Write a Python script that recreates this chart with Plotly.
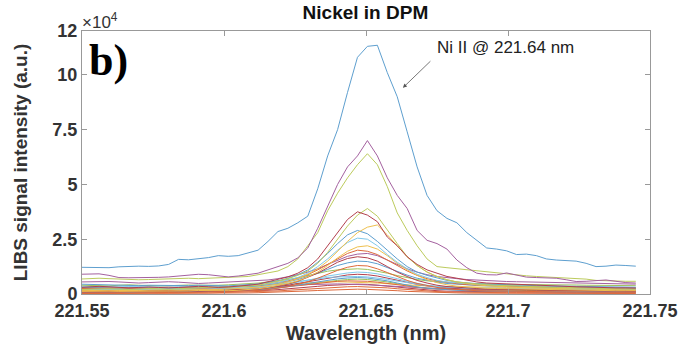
import plotly.graph_objects as go

# Wavelength grid (nm)
wavelength = [221.549, 221.5525, 221.556, 221.5595, 221.563, 221.5665, 221.570, 221.5735, 221.577, 221.5805,
              221.584, 221.5875, 221.591, 221.5945, 221.598, 221.6015, 221.605, 221.6085, 221.612, 221.6155,
              221.619, 221.6225, 221.626, 221.6295, 221.633, 221.6365, 221.640, 221.6435, 221.647, 221.6505,
              221.654, 221.6575, 221.661, 221.6645, 221.668, 221.6715, 221.675, 221.6785, 221.682, 221.6855,
              221.689, 221.6925, 221.696, 221.6995, 221.703, 221.7065, 221.710, 221.7135, 221.717, 221.7205,
              221.724, 221.7275, 221.731, 221.7345, 221.738, 221.7415, 221.745]

# Spectra, intensity in units of 1e4 a.u.
s_blue1 = [1.22,1.21,1.19,1.2,1.24,1.27,1.27,1.26,1.28,1.35,1.58,1.56,1.6,1.66,1.75,1.72,1.75,1.87,2.0,2.4,2.85,3.0,3.25,3.55,4.8,6.3,7.5,9.2,10.8,11.3,11.35,10.1,9.0,7.4,5.8,4.5,3.8,3.45,3.25,2.8,2.45,2.1,2.05,1.97,1.8,1.82,1.75,1.6,1.55,1.52,1.5,1.4,1.25,1.27,1.32,1.3,1.27]
s_purple1 = [0.9,0.9,0.92,0.85,0.75,0.74,0.74,0.74,0.76,0.78,0.82,0.87,0.9,0.88,0.82,0.78,0.82,0.87,0.95,1.1,1.25,1.4,1.65,2.1,3.0,4.0,5.0,5.8,6.3,7.0,6.3,5.3,4.5,3.9,2.9,2.45,2.3,2.05,1.55,1.2,0.95,0.88,0.87,0.96,0.85,0.77,0.75,0.74,0.72,0.65,0.57,0.58,0.62,0.64,0.58,0.52,0.5]
s_olive1 = [0.68,0.7,0.72,0.7,0.68,0.66,0.65,0.66,0.68,0.7,0.72,0.72,0.7,0.72,0.74,0.76,0.78,0.8,0.88,0.95,1.05,1.25,1.6,2.2,2.8,3.8,4.6,5.3,5.9,6.4,5.9,4.9,3.7,2.9,2.2,1.6,1.25,1.2,1.15,1.1,1.05,1.0,0.95,0.9,0.85,0.83,0.8,0.78,0.75,0.72,0.7,0.68,0.62,0.6,0.58,0.58,0.58]
s_darkred1 = [0.3,0.32,0.35,0.33,0.3,0.28,0.3,0.32,0.3,0.28,0.3,0.32,0.35,0.33,0.3,0.32,0.35,0.4,0.45,0.55,0.65,0.78,0.95,1.2,1.6,2.2,2.8,3.4,3.75,3.6,3.3,2.6,2.2,1.7,1.35,1.1,0.95,0.8,0.72,0.62,0.55,0.5,0.48,0.45,0.42,0.4,0.4,0.38,0.36,0.35,0.33,0.32,0.3,0.3,0.28,0.28,0.27]
s_green1 = [0.2,0.22,0.25,0.24,0.22,0.2,0.22,0.25,0.24,0.22,0.24,0.26,0.28,0.3,0.28,0.3,0.32,0.36,0.4,0.48,0.58,0.7,0.85,1.05,1.4,1.9,2.5,3.1,3.6,3.9,3.55,2.9,2.3,1.7,1.3,1.0,0.8,0.65,0.55,0.5,0.45,0.42,0.4,0.38,0.36,0.34,0.33,0.32,0.3,0.3,0.28,0.26,0.25,0.24,0.24,0.22,0.22]
s_yellow1 = [0.15,0.16,0.18,0.17,0.16,0.15,0.16,0.18,0.2,0.19,0.18,0.2,0.22,0.21,0.2,0.22,0.25,0.28,0.32,0.38,0.45,0.55,0.7,0.9,1.15,1.5,1.95,2.4,2.8,3.05,3.15,2.7,2.2,1.7,1.3,1.0,0.8,0.65,0.55,0.48,0.42,0.38,0.35,0.33,0.3,0.28,0.27,0.26,0.25,0.24,0.22,0.21,0.2,0.2,0.19,0.18,0.18]
s_blue2 = [0.45,0.44,0.42,0.4,0.38,0.37,0.38,0.4,0.39,0.37,0.36,0.38,0.4,0.38,0.36,0.37,0.4,0.42,0.46,0.52,0.6,0.72,0.88,1.1,1.45,1.85,2.3,2.7,2.9,2.75,2.4,2.0,1.6,1.25,1.0,0.85,0.72,0.62,0.55,0.5,0.47,0.45,0.43,0.42,0.4,0.39,0.38,0.37,0.36,0.35,0.34,0.34,0.33,0.33,0.32,0.32,0.31]
s_cyan1 = [0.35,0.34,0.33,0.32,0.33,0.34,0.33,0.32,0.3,0.31,0.33,0.34,0.33,0.32,0.3,0.31,0.33,0.36,0.4,0.45,0.52,0.62,0.75,0.95,1.25,1.6,2.0,2.35,2.55,2.5,2.2,1.8,1.45,1.15,0.9,0.75,0.62,0.55,0.5,0.46,0.43,0.41,0.4,0.38,0.37,0.36,0.35,0.34,0.33,0.32,0.31,0.3,0.3,0.29,0.28,0.28,0.27]
s_yellow2 = [0.12,0.13,0.14,0.13,0.12,0.12,0.13,0.14,0.15,0.14,0.13,0.14,0.16,0.15,0.14,0.15,0.17,0.2,0.24,0.3,0.38,0.48,0.6,0.78,1.0,1.3,1.65,1.95,2.15,2.2,2.05,1.75,1.4,1.1,0.85,0.65,0.52,0.42,0.36,0.32,0.28,0.26,0.25,0.24,0.22,0.21,0.2,0.2,0.19,0.18,0.18,0.17,0.16,0.16,0.15,0.15,0.15]
s_orange1 = [0.25,0.26,0.28,0.3,0.28,0.26,0.25,0.27,0.3,0.32,0.3,0.28,0.27,0.28,0.3,0.32,0.34,0.37,0.4,0.45,0.52,0.6,0.72,0.88,1.1,1.35,1.6,1.85,2.0,1.95,1.8,1.55,1.3,1.05,0.85,0.7,0.6,0.52,0.47,0.43,0.4,0.38,0.37,0.36,0.35,0.34,0.33,0.32,0.31,0.3,0.3,0.29,0.28,0.28,0.27,0.27,0.26]
s_purple2 = [0.55,0.56,0.58,0.57,0.55,0.52,0.5,0.52,0.55,0.56,0.54,0.5,0.48,0.5,0.52,0.55,0.56,0.58,0.6,0.64,0.7,0.78,0.88,1.0,1.15,1.35,1.55,1.72,1.82,1.85,1.75,1.55,1.35,1.15,1.0,0.88,0.8,0.74,0.7,0.66,0.63,0.6,0.58,0.57,0.56,0.55,0.54,0.52,0.5,0.5,0.48,0.47,0.48,0.47,0.46,0.45,0.45]
s_darkred2 = [0.1,0.1,0.11,0.12,0.11,0.1,0.1,0.12,0.13,0.12,0.11,0.12,0.13,0.14,0.13,0.14,0.16,0.18,0.22,0.28,0.35,0.45,0.58,0.75,0.95,1.2,1.45,1.62,1.7,1.65,1.5,1.25,1.0,0.8,0.62,0.5,0.4,0.34,0.3,0.27,0.25,0.23,0.22,0.21,0.2,0.19,0.18,0.18,0.17,0.16,0.16,0.15,0.15,0.14,0.14,0.13,0.13]
s_blue3 = [0.3,0.31,0.3,0.28,0.27,0.28,0.3,0.31,0.3,0.28,0.27,0.28,0.3,0.31,0.3,0.3,0.32,0.34,0.37,0.42,0.48,0.56,0.66,0.8,0.95,1.12,1.3,1.42,1.5,1.48,1.38,1.2,1.02,0.86,0.72,0.62,0.54,0.48,0.44,0.41,0.39,0.37,0.36,0.35,0.34,0.33,0.33,0.32,0.32,0.31,0.31,0.3,0.3,0.29,0.29,0.28,0.28]
s_orange2 = [0.05,0.06,0.06,0.07,0.06,0.05,0.06,0.07,0.08,0.07,0.06,0.07,0.08,0.08,0.09,0.1,0.11,0.13,0.16,0.2,0.26,0.34,0.44,0.56,0.72,0.9,1.08,1.22,1.3,1.28,1.15,0.98,0.8,0.62,0.48,0.38,0.3,0.24,0.2,0.17,0.15,0.14,0.13,0.12,0.12,0.11,0.11,0.1,0.1,0.1,0.09,0.09,0.09,0.08,0.08,0.08,0.08]
s_green2 = [0.4,0.38,0.36,0.37,0.4,0.42,0.4,0.38,0.37,0.38,0.4,0.41,0.4,0.39,0.4,0.42,0.44,0.46,0.5,0.55,0.6,0.66,0.74,0.84,0.94,1.04,1.1,1.14,1.15,1.12,1.05,0.95,0.84,0.74,0.66,0.6,0.56,0.52,0.5,0.48,0.46,0.45,0.45,0.44,0.44,0.43,0.43,0.42,0.42,0.41,0.41,0.4,0.4,0.4,0.39,0.39,0.38]
s_cyan2 = [0.2,0.21,0.22,0.21,0.2,0.19,0.2,0.21,0.22,0.21,0.2,0.21,0.22,0.22,0.21,0.22,0.24,0.26,0.29,0.33,0.38,0.45,0.53,0.62,0.72,0.82,0.9,0.96,1.0,0.98,0.92,0.82,0.7,0.58,0.48,0.4,0.35,0.31,0.28,0.26,0.25,0.24,0.23,0.23,0.22,0.22,0.21,0.21,0.21,0.2,0.2,0.2,0.2,0.19,0.19,0.19,0.19]
s_darkred3 = [0.15,0.14,0.15,0.16,0.17,0.16,0.15,0.14,0.15,0.16,0.17,0.16,0.15,0.16,0.17,0.18,0.2,0.22,0.25,0.29,0.34,0.4,0.48,0.56,0.65,0.74,0.82,0.87,0.9,0.88,0.82,0.72,0.62,0.52,0.44,0.37,0.32,0.28,0.25,0.23,0.22,0.21,0.2,0.2,0.19,0.19,0.18,0.18,0.18,0.17,0.17,0.17,0.16,0.16,0.16,0.16,0.15]
s_blue4 = [0.08,0.09,0.08,0.07,0.08,0.09,0.1,0.09,0.08,0.09,0.1,0.1,0.09,0.1,0.11,0.12,0.13,0.15,0.18,0.22,0.27,0.33,0.4,0.48,0.56,0.63,0.69,0.73,0.75,0.73,0.68,0.6,0.5,0.4,0.32,0.26,0.22,0.19,0.17,0.15,0.14,0.13,0.13,0.12,0.12,0.12,0.11,0.11,0.11,0.1,0.1,0.1,0.1,0.1,0.09,0.09,0.09]
s_orange3 = [0.1,0.11,0.12,0.11,0.1,0.1,0.11,0.12,0.11,0.1,0.11,0.12,0.12,0.11,0.12,0.13,0.14,0.16,0.19,0.23,0.28,0.33,0.39,0.45,0.5,0.55,0.58,0.6,0.6,0.58,0.54,0.48,0.41,0.35,0.29,0.25,0.22,0.2,0.18,0.17,0.16,0.15,0.15,0.14,0.14,0.14,0.13,0.13,0.13,0.13,0.12,0.12,0.12,0.12,0.11,0.11,0.11]
s_yellow3 = [0.3,0.29,0.28,0.29,0.3,0.31,0.3,0.29,0.28,0.29,0.3,0.31,0.31,0.3,0.31,0.32,0.33,0.35,0.37,0.4,0.43,0.46,0.5,0.53,0.55,0.56,0.56,0.55,0.54,0.52,0.5,0.47,0.44,0.41,0.38,0.36,0.34,0.33,0.32,0.32,0.31,0.31,0.3,0.3,0.3,0.3,0.29,0.29,0.29,0.29,0.28,0.28,0.28,0.28,0.28,0.27,0.27]
s_purple3 = [0.22,0.23,0.24,0.23,0.22,0.21,0.22,0.23,0.24,0.23,0.22,0.22,0.23,0.24,0.23,0.24,0.25,0.27,0.29,0.31,0.34,0.37,0.4,0.43,0.45,0.46,0.46,0.45,0.44,0.42,0.4,0.37,0.34,0.31,0.29,0.27,0.26,0.25,0.24,0.24,0.23,0.23,0.23,0.22,0.22,0.22,0.22,0.21,0.21,0.21,0.21,0.21,0.2,0.2,0.2,0.2,0.2]
s_orange4 = [0.04,0.05,0.05,0.04,0.04,0.05,0.06,0.05,0.04,0.05,0.06,0.06,0.05,0.05,0.06,0.07,0.08,0.09,0.1,0.12,0.14,0.17,0.2,0.23,0.26,0.29,0.31,0.33,0.34,0.33,0.31,0.28,0.24,0.2,0.16,0.13,0.11,0.09,0.08,0.07,0.07,0.06,0.06,0.06,0.06,0.05,0.05,0.05,0.05,0.05,0.05,0.05,0.05,0.04,0.04,0.04,0.04]
s_darkred4 = [0.08,0.07,0.08,0.09,0.08,0.07,0.08,0.09,0.1,0.09,0.08,0.09,0.1,0.09,0.1,0.11,0.12,0.13,0.15,0.17,0.2,0.23,0.27,0.31,0.35,0.39,0.42,0.44,0.45,0.44,0.41,0.37,0.32,0.27,0.22,0.18,0.15,0.13,0.12,0.11,0.1,0.1,0.09,0.09,0.09,0.09,0.08,0.08,0.08,0.08,0.08,0.08,0.07,0.07,0.07,0.07,0.07]
s_green3 = [0.15,0.16,0.17,0.16,0.15,0.14,0.15,0.16,0.17,0.16,0.15,0.16,0.17,0.18,0.17,0.18,0.19,0.21,0.23,0.26,0.3,0.35,0.4,0.46,0.52,0.58,0.62,0.66,0.68,0.66,0.62,0.55,0.47,0.39,0.32,0.27,0.24,0.22,0.2,0.19,0.18,0.18,0.17,0.17,0.17,0.16,0.16,0.16,0.16,0.15,0.15,0.15,0.15,0.15,0.14,0.14,0.14]
s_cyan3 = [0.25,0.26,0.27,0.26,0.25,0.24,0.25,0.26,0.27,0.26,0.25,0.26,0.27,0.26,0.27,0.28,0.3,0.32,0.35,0.39,0.44,0.5,0.57,0.64,0.7,0.75,0.78,0.8,0.8,0.78,0.74,0.67,0.59,0.51,0.44,0.38,0.34,0.31,0.29,0.28,0.27,0.27,0.26,0.26,0.26,0.26,0.25,0.25,0.25,0.25,0.25,0.24,0.24,0.24,0.24,0.24,0.24]
s_red5 = [0.02,0.02,0.03,0.02,0.02,0.03,0.03,0.02,0.02,0.03,0.03,0.03,0.02,0.03,0.03,0.04,0.04,0.05,0.06,0.07,0.08,0.1,0.12,0.14,0.16,0.18,0.2,0.21,0.22,0.21,0.2,0.18,0.15,0.12,0.1,0.08,0.06,0.05,0.05,0.04,0.04,0.04,0.03,0.03,0.03,0.03,0.03,0.03,0.03,0.03,0.02,0.02,0.02,0.02,0.02,0.02,0.02]

# Tick labels
x_tick_vals = [221.55, 221.6, 221.65, 221.7, 221.75]
x_tick_text = ["221.55", "221.6", "221.65", "221.7", "221.75"]
y_tick_vals = [0, 2.5, 5, 7.5, 10, 12]
y_tick_text = ["0", "2.5", "5", "7.5", "10", "12"]

BLUE, ORANGE, YELLOW, PURPLE = "#5e9fcf", "#de6a3c", "#eec04e", "#a4619f"
GREEN, CYAN, DARKRED, OLIVE = "#9cc25a", "#80c8ea", "#b3404e", "#bccb5c"

series = [
    (s_darkred4, DARKRED), (s_orange4, ORANGE), (s_red5, ORANGE), (s_green3, GREEN),
    (s_purple3, PURPLE), (s_yellow3, YELLOW), (s_orange3, ORANGE), (s_blue4, BLUE),
    (s_darkred3, DARKRED), (s_cyan2, CYAN), (s_green2, GREEN), (s_cyan3, CYAN),
    (s_orange2, ORANGE), (s_blue3, BLUE), (s_darkred2, DARKRED), (s_purple2, PURPLE),
    (s_orange1, ORANGE), (s_yellow2, YELLOW), (s_cyan1, CYAN), (s_blue2, BLUE),
    (s_yellow1, YELLOW), (s_green1, OLIVE), (s_darkred1, DARKRED), (s_olive1, OLIVE),
    (s_purple1, PURPLE), (s_blue1, BLUE),
]

fig = go.Figure()
for vals, col in series:
    fig.add_trace(go.Scatter(x=wavelength, y=vals, mode="lines",
                             line=dict(color=col, width=1), showlegend=False,
                             hoverinfo="skip"))

TXT = "#333333"
AX = "#999999"
FAM = "Liberation Sans, Arial, sans-serif"
axis_font = dict(family=FAM, size=18, color=TXT, weight="bold")

fig.update_layout(
    width=696, height=350,
    margin=dict(l=82, r=46, t=31, b=56),
    paper_bgcolor="white", plot_bgcolor="white",
    title=dict(text="Nickel in DPM", x=0.525, xanchor="center", y=1 - 12/350, yref="container",
               yanchor="middle",
               font=dict(family=FAM, size=19, color="#111111", weight="bold")),
    xaxis=dict(range=[221.55, 221.75], tickvals=x_tick_vals, ticktext=x_tick_text,
               showgrid=False, zeroline=False, showline=True, linecolor=AX, linewidth=1,
               mirror="allticks", ticks="inside", ticklen=5, tickcolor=AX,
               tickfont=axis_font, automargin=False,
               title=dict(text="Wavelength (nm)", standoff=6,
                          font=dict(family=FAM, size=20, color=TXT, weight="bold"))),
    yaxis=dict(range=[0, 12], tickvals=y_tick_vals, ticktext=y_tick_text,
               showgrid=False, zeroline=False, showline=True, linecolor=AX, linewidth=1,
               mirror="allticks", ticks="inside", ticklen=5, tickcolor=AX,
               tickfont=axis_font, automargin=False,
               title=dict(text="LIBS signal intensity (a.u.)", standoff=19,
                          font=dict(family=FAM, size=19, color=TXT, weight="bold"))),
    annotations=[
        dict(text="×10<sup>4</sup>", xref="paper", yref="paper", x=0.0, y=1.0,
             xanchor="left", yanchor="bottom", showarrow=False, yshift=-3, xshift=-2,
             font=dict(family=FAM, size=17, color=TXT)),
        dict(text="b)", xref="paper", yref="paper", x=0.008, y=0.99,
             xanchor="left", yanchor="top", showarrow=False,
             font=dict(family="Liberation Serif, Times New Roman, serif", size=44, color="#000000", weight="bold")),
        dict(text="Ni II @ 221.64 nm", xref="x", yref="y", x=221.6743, y=11.23,
             xanchor="left", yanchor="middle", showarrow=False,
             font=dict(family=FAM, size=17, color="#222222")),
        dict(text="", xref="x", yref="y", x=221.663, y=9.41, axref="pixel", ayref="pixel",
             ax=29, ay=-28, showarrow=True, arrowhead=2, arrowsize=1, arrowwidth=0.8,
             arrowcolor="#555555"),
    ],
)

fig.write_html("out.html", config={"displayModeBar": False},
               post_script="document.body.style.margin='0px';")
